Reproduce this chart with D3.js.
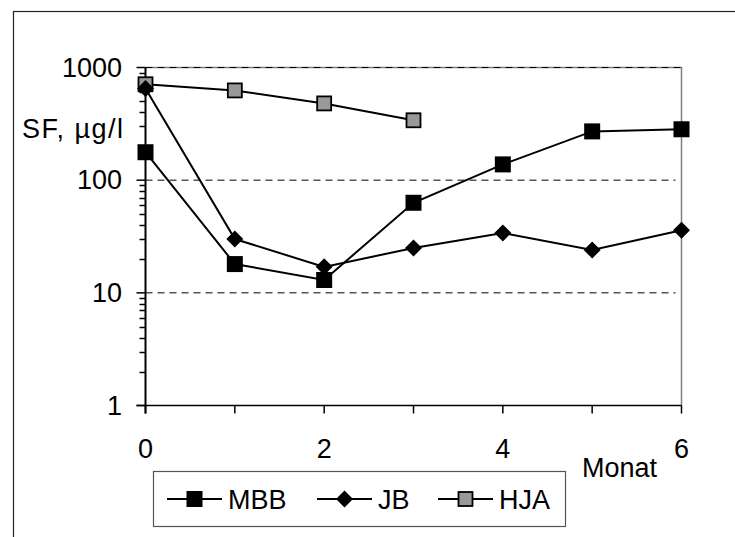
<!DOCTYPE html>
<html>
<head>
<meta charset="utf-8">
<script src="https://cdn.jsdelivr.net/npm/d3@7"></script>
<style>
  body { margin: 0; background: #fff; }
  svg { display: block; font-family: Arial, "Liberation Sans", sans-serif; }
</style>
</head>
<body>
<svg width="735" height="537"></svg>
<script>
// data
const months = [0, 1, 2, 3, 4, 5, 6];
const mbb = [177, 18, 13, 63, 138, 271, 283];
const jb = [650, 30, 17, 25, 34, 24, 36];
const hja = [710, 626, 480, 340];
const seriesNames = ["MBB", "JB", "HJA"];
const yTicks = [1, 10, 100, 1000];
const xTickLabels = [0, 2, 4, 6];

const svg = d3.select('svg');

// outer frame (right and bottom edges run off the page)
svg.append('rect')
    .attr('x', 13.5).attr('y', 11.5)
    .attr('width', 740).attr('height', 560)
    .attr('fill', 'none').attr('stroke', '#222').attr('stroke-width', 1.2);

const x = d3.scaleLinear().domain([0, 6]).range([145.5, 681.5]);
const y = d3.scaleLog().domain([1, 1000]).range([405.5, 67.5]);

// plot area border (gray, right + top)
svg.append('path')
    .attr('d', `M${x(0)},${y(1000)}H${x(6)}V${y(1)}`)
    .attr('fill', 'none').attr('stroke', '#808080').attr('stroke-width', 1.5);

// dashed gridlines
svg.append('g')
    .selectAll('line')
    .data([10, 100, 1000])
    .enter().append('line')
    .attr('x1', x(0)).attr('x2', d => d === 1000 ? x(6) : x(6) - 6)
    .attr('y1', d => y(d)).attr('y2', d => y(d))
    .attr('stroke', '#000').attr('stroke-width', 1)
    .attr('stroke-dasharray', '7,5');

// y axis with minor ticks
const minor = [];
for (let e = 0; e < 3; e++) {
    for (let m = 2; m <= 9; m++) minor.push(m * Math.pow(10, e));
}
const yAxis = svg.append('g');
yAxis.append('line')
    .attr('x1', x(0)).attr('x2', x(0))
    .attr('y1', y(1000)).attr('y2', y(1) + 8)
    .attr('stroke', '#000').attr('stroke-width', 2);
yAxis.selectAll('.minor')
    .data(minor)
    .enter().append('line')
    .attr('class', 'minor')
    .attr('x1', x(0) - 6).attr('x2', x(0))
    .attr('y1', d => Math.round(y(d)) + 0.5).attr('y2', d => Math.round(y(d)) + 0.5)
    .attr('stroke', '#000').attr('stroke-width', 1.5);
yAxis.selectAll('.major')
    .data(yTicks)
    .enter().append('line')
    .attr('class', 'major')
    .attr('x1', x(0) - 9).attr('x2', x(0))
    .attr('y1', d => y(d)).attr('y2', d => y(d))
    .attr('stroke', '#000').attr('stroke-width', 1.5);
yAxis.selectAll('text')
    .data(yTicks)
    .enter().append('text')
    .attr('x', 122).attr('y', d => y(d) + 9)
    .attr('text-anchor', 'end')
    .attr('font-size', '27px')
    .text(d => d);

// x axis
const xAxis = svg.append('g');
xAxis.append('line')
    .attr('x1', x(0) - 9).attr('x2', x(6))
    .attr('y1', y(1)).attr('y2', y(1))
    .attr('stroke', '#000').attr('stroke-width', 1.5);
xAxis.selectAll('.tick')
    .data(months)
    .enter().append('line')
    .attr('class', 'tick')
    .attr('x1', d => x(d)).attr('x2', d => x(d))
    .attr('y1', y(1)).attr('y2', y(1) + 8)
    .attr('stroke', '#000').attr('stroke-width', 1.5);
xAxis.selectAll('text')
    .data(xTickLabels)
    .enter().append('text')
    .attr('x', d => x(d)).attr('y', 458)
    .attr('text-anchor', 'middle')
    .attr('font-size', '27px')
    .text(d => d);

// axis titles
svg.append('text')
    .attr('x', 22).attr('y', 138)
    .attr('font-size', '27px')
    .attr('textLength', 101)
    .text('SF, µg/l');
svg.append('text')
    .attr('x', 582).attr('y', 477)
    .attr('font-size', '27px')
    .text('Monat');

// markers
function drawMarker(g, type, cx, cy) {
    if (type === 'MBB') {
        g.append('rect')
            .attr('x', cx - 8).attr('y', cy - 8)
            .attr('width', 16).attr('height', 16)
            .attr('fill', '#000');
    } else if (type === 'JB') {
        g.append('path')
            .attr('d', `M${cx},${cy - 8.5}L${cx + 8.5},${cy}L${cx},${cy + 8.5}L${cx - 8.5},${cy}Z`)
            .attr('fill', '#000');
    } else {
        g.append('rect')
            .attr('x', cx - 7).attr('y', cy - 7)
            .attr('width', 14).attr('height', 14)
            .attr('fill', '#999').attr('stroke', '#000').attr('stroke-width', 1.8);
    }
}

const series = [mbb, jb, hja];
const line = d3.line()
    .x((d, i) => x(months[i]))
    .y(d => y(d));

// draw in reverse so MBB sits on top
[2, 1, 0].forEach(k => {
    const g = svg.append('g');
    g.append('path')
        .attr('d', line(series[k]))
        .attr('fill', 'none').attr('stroke', '#000').attr('stroke-width', 2);
    series[k].forEach((v, i) => drawMarker(g, seriesNames[k], x(months[i]), y(v)));
});

// legend
const legend = svg.append('g');
legend.append('rect')
    .attr('x', 153.5).attr('y', 471.5)
    .attr('width', 412).attr('height', 55)
    .attr('fill', '#fff').attr('stroke', '#555').attr('stroke-width', 1.2);
const legendX = [167, 317, 438];
seriesNames.forEach((name, k) => {
    const g = legend.append('g');
    const x0 = legendX[k];
    g.append('line')
        .attr('x1', x0).attr('x2', x0 + 55)
        .attr('y1', 499).attr('y2', 499)
        .attr('stroke', '#000').attr('stroke-width', 2);
    drawMarker(g, name, x0 + 27.5, 499);
    g.append('text')
        .attr('x', x0 + 61).attr('y', 509)
        .attr('font-size', '27px')
        .text(name);
});
</script>
</body>
</html>
